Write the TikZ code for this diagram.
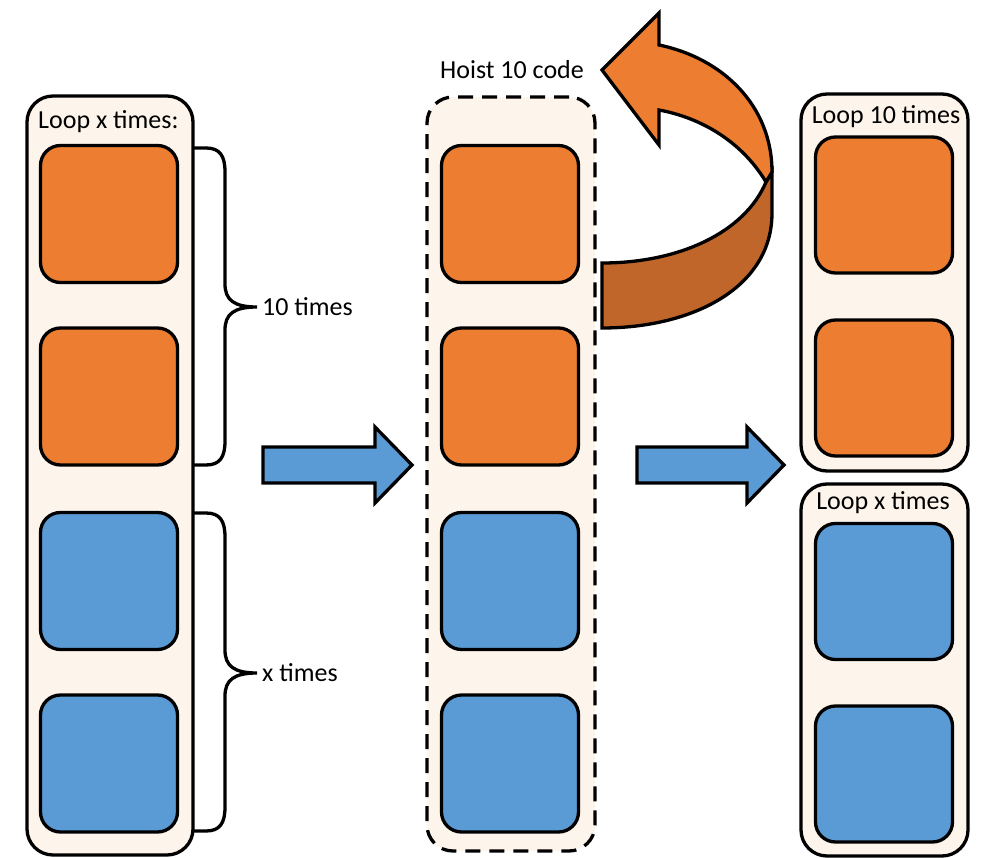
\documentclass[tikz,border=0pt]{standalone}
\usepackage{fontspec}
\setmainfont{Carlito}
\definecolor{orangeF}{HTML}{ED7D31}
\definecolor{blueF}{HTML}{5B9BD5}
\definecolor{darkF}{HTML}{C0662A}
\definecolor{peach}{HTML}{FDF4EB}
\tikzset{
 box/.style={draw=black, line width=3.3pt, rounded corners=20pt, minimum width=137pt, minimum height=137pt, inner sep=0pt},
 obox/.style={box, fill=orangeF},
 bbox/.style={box, fill=blueF},
 container/.style={draw=black, line width=3.3pt, fill=peach, rounded corners=26pt, inner sep=0pt},
 dashedcontainer/.style={container, dash pattern=on 15pt off 9pt},
 lbl/.style={font=\fontsize{26}{31}\selectfont, inner sep=0pt},
 bracepath/.style={draw=black, line width=3.3pt, line cap=round},
 blockarrow/.style={draw=black, line width=3.3pt, fill=blueF, line join=miter},
 hoistpart/.style={draw=black, line width=3.3pt, line join=miter},
}
\begin{document}
\begin{tikzpicture}[x=1pt,y=-1pt]
\useasboundingbox (0,0) rectangle (982,858);
% containers
\node[container, minimum width=166pt, minimum height=759pt] (L) at (110,475.5) {};
\node[dashedcontainer, minimum width=168pt, minimum height=754pt] (M) at (511,474) {};
\node[container, minimum width=167pt, minimum height=377pt] (RT) at (884.5,282.5) {};
\node[container, minimum width=167pt, minimum height=372pt] (RB) at (884.5,670) {};
% labels
\node[lbl, anchor=west] (tL) at (38,122) {Loop x times:};
\node[lbl] (tH) at (512,70) {Hoist 10 code};
\node[lbl] (tRT) at (886,117) {Loop 10 times};
\node[lbl] (tRB) at (883,503) {Loop x times};
\node[lbl, anchor=west] (t10) at (262,307) {10 times};
\node[lbl, anchor=west] (tx) at (262,673) {x times};
% left squares
\node[obox] (L1) at (109,214) {};
\node[obox] (L2) at (109,396.5) {};
\node[bbox] (L3) at (109,581) {};
\node[bbox] (L4) at (109,763.5) {};
% middle squares
\node[obox] (M1) at (510,214) {};
\node[obox] (M2) at (510,396.5) {};
\node[bbox] (M3) at (510,581) {};
\node[bbox] (M4) at (510,763.5) {};
% right squares
\node[obox, minimum height=136pt] (R1) at (884,205) {};
\node[obox, minimum height=136pt] (R2) at (884,388) {};
\node[bbox, minimum height=136pt] (R3) at (884,591.5) {};
\node[bbox, minimum height=136pt] (R4) at (884,774) {};
% braces
\coordinate (b1s) at (L.east |- 0,148);
\coordinate (b1e) at (L.east |- 0,465);
\coordinate (b2s) at (L.east |- 0,513);
\coordinate (b2e) at (L.east |- 0,831);
\coordinate (b1t) at ([xshift=-5pt]t10.west);
\coordinate (b2t) at ([xshift=-5pt]tx.west);
\draw[bracepath] (b1s) -- (206,148) .. controls (220,148) and (225,156) .. (225,172)
  -- (225,284) .. controls (225,300) and (234,307) .. (b1t)
  .. controls (234,307) and (225,314) .. (225,330)
  -- (225,441) .. controls (225,457) and (220,465) .. (206,465) -- (b1e);
\draw[bracepath] (b2s) -- (206,513) .. controls (220,513) and (225,521) .. (225,537)
  -- (225,650) .. controls (225,666) and (234,673) .. (b2t)
  .. controls (234,673) and (225,680) .. (225,696)
  -- (225,807) .. controls (225,823) and (220,831) .. (206,831) -- (b2e);
% block arrows
\draw[blockarrow] (263,447) -- (375,447) -- (375,427) -- (412,465) -- (375,503) -- (375,483) -- (263,483) -- cycle;
\draw[blockarrow] (637,447) -- (747,447) -- (747,427) -- (784,465) -- (747,503) -- (747,483) -- (637,483) -- cycle;
% hoist curved arrow
\draw[hoistpart, fill=darkF] (766,182) -- (772,172) -- (772,213)
  .. controls (772,288) and (692,328) .. (602,328) -- (602,263)
  .. controls (680,263) and (745,232) .. (766,182) -- cycle;
\draw[hoistpart, fill=orangeF] (602,70) -- (659,13) -- (659,45)
  .. controls (722,58) and (772,105) .. (772,172) -- (766,182)
  .. controls (742,142) and (702,118) .. (659,110) -- (659,145) -- cycle;
\end{tikzpicture}
\end{document}
